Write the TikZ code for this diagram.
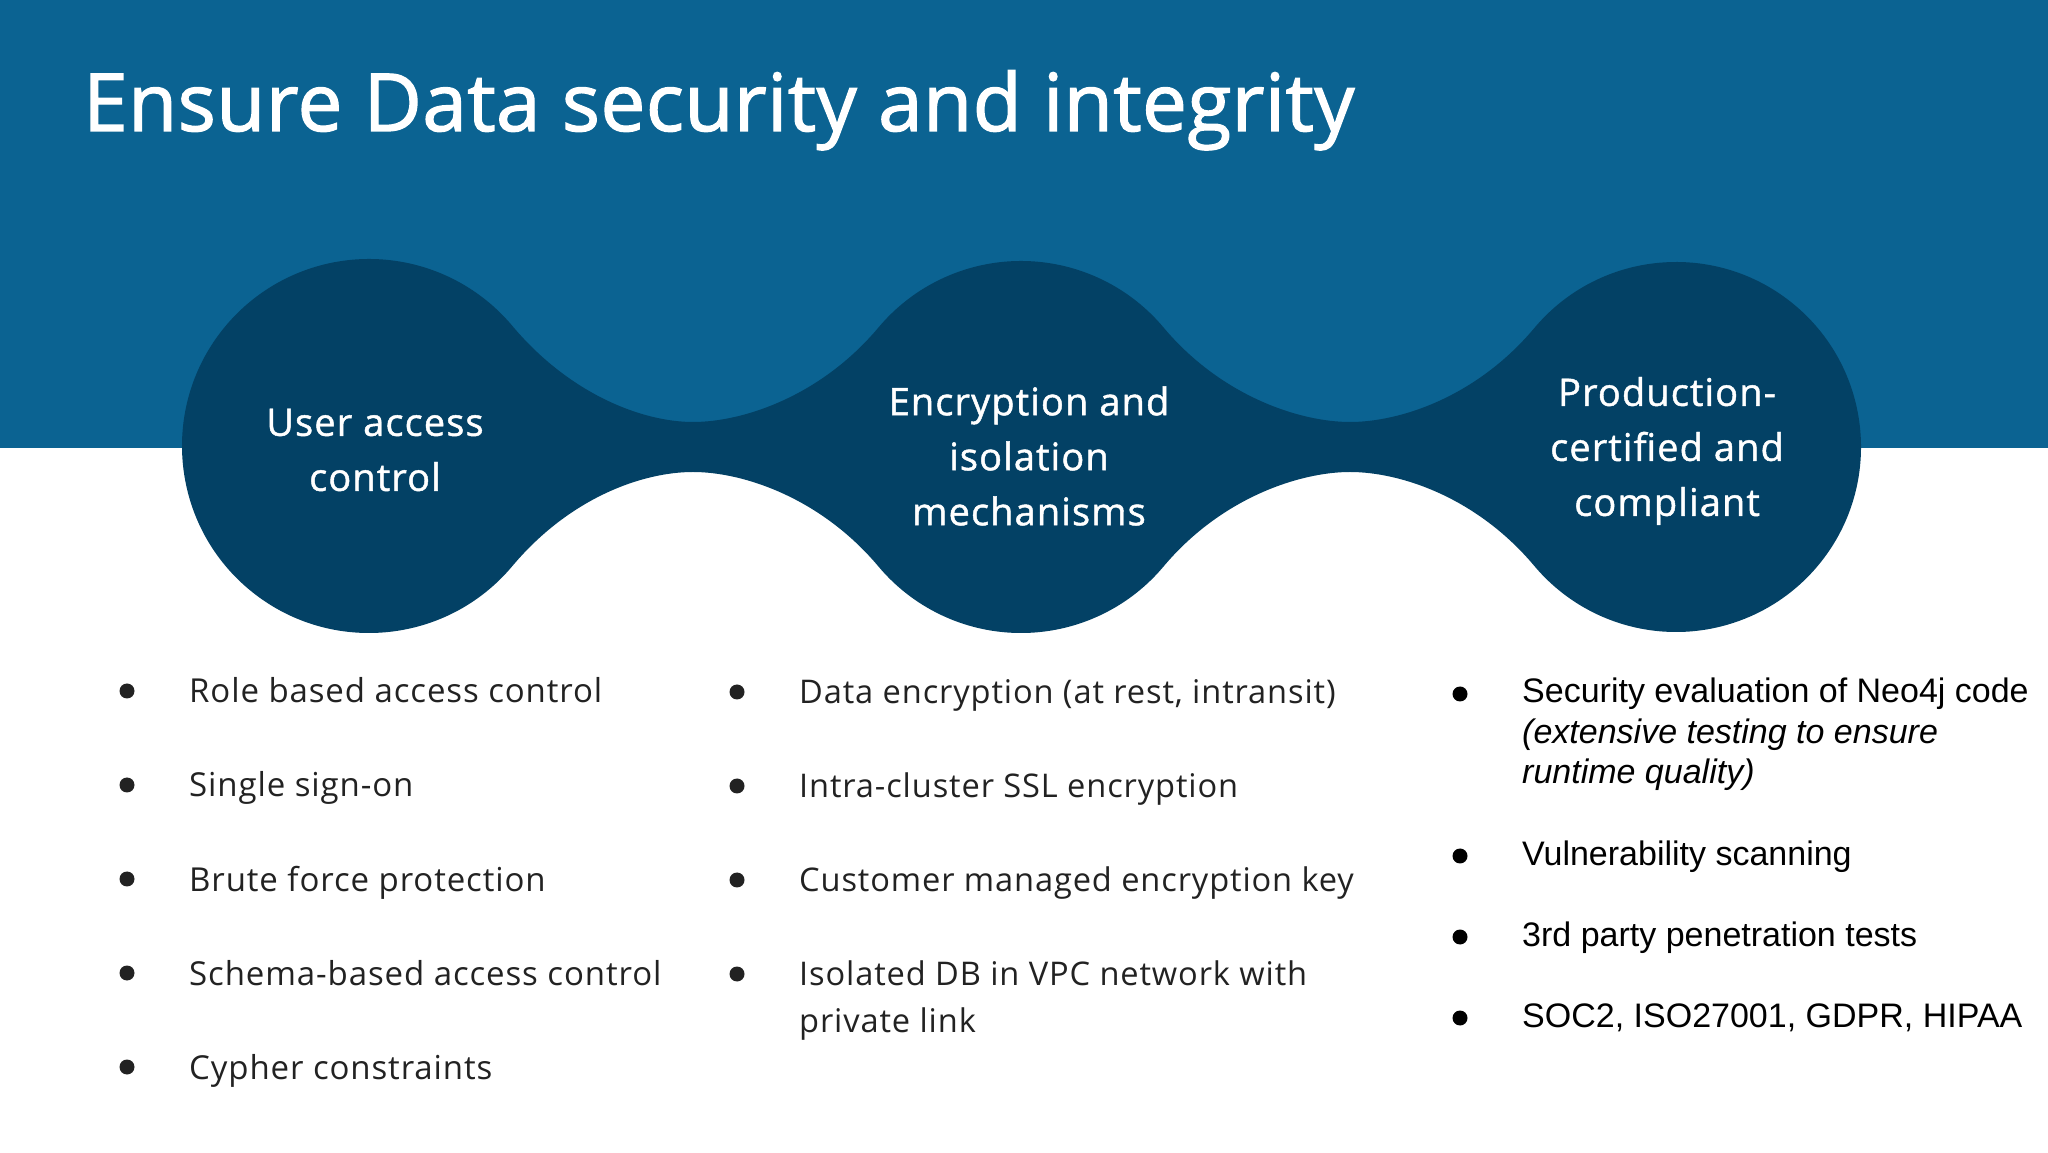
\documentclass[tikz,border=0pt]{standalone}
\usepackage{fontspec}
\setmainfont{Open Sans}
\newfontfamily\bodyfont{Open Sans}[LetterSpace=2.7]
\newfontfamily\titlefont{Open Sans}[LetterSpace=0.6, FakeBold=1.6]
\newfontfamily\blobfont{Open Sans}[LetterSpace=2.9, FakeBold=1.2]
\newfontfamily\arialfont{Liberation Sans}
\usetikzlibrary{calc}
\definecolor{bandblue}{RGB}{11,99,146}
\definecolor{blobblue}{RGB}{3,65,101}
\definecolor{itemgrey}{RGB}{34,34,34}
\tikzset{
	heading/.style = {anchor=base west, inner sep=0pt, text=white, font=\titlefont\fontsize{80}{90}\selectfont},
	bloblabel/.style = {align=center, inner sep=0pt, text=white, font=\blobfont\fontsize{38}{55}\selectfont},
	listitem/.style = {anchor=base west, inner sep=0pt, align=left, text=itemgrey, font=\bodyfont\fontsize{33}{47}\selectfont},
	narrowitem/.style = {listitem, font=\bodyfont\fontsize{32.6}{47}\selectfont},
	arialitem/.style = {anchor=base west, inner sep=0pt, align=left, text=black, font=\arialfont\fontsize{34}{40.5}\selectfont},
	dotmark/.style = {circle, fill=itemgrey, inner sep=0pt, minimum size=15pt}
}
\begin{document}
\begin{tikzpicture}[x=1pt, y=1pt]
	\path[use as bounding box] (0,0) rectangle (2048,1152);
	\fill[white] (0,0) rectangle (2048,1152);
	\fill[bandblue] (0,704) rectangle (2048,1152);
	\coordinate (c1) at (369,706);
	\coordinate (c2) at (1021,705);
	\coordinate (c3) at (1676,705);
	\coordinate (n1) at (693,730);
	\coordinate (n2) at (1350,730);
	\coordinate (m1) at (693,680);
	\coordinate (m2) at (1350,680);
	\fill[blobblue] ($(c1)+(40:187)$) .. controls +(-50:90) and +(180:50) .. (n1)
		.. controls +(0:50) and +(230:90) .. ($(c2)+(140:186)$)
		arc[start angle=140, end angle=40, radius=186]
		.. controls +(-50:90) and +(180:50) .. (n2)
		.. controls +(0:50) and +(230:90) .. ($(c3)+(140:185)$)
		arc[start angle=140, end angle=-140, radius=185]
		.. controls +(130:90) and +(0:50) .. (m2)
		.. controls +(180:50) and +(50:90) .. ($(c2)+(-40:186)$)
		arc[start angle=-40, end angle=-140, radius=186]
		.. controls +(130:90) and +(0:50) .. (m1)
		.. controls +(180:50) and +(50:90) .. ($(c1)+(-40:187)$)
		arc[start angle=-40, end angle=-320, radius=187] -- cycle;
	\node[heading] (title) at (83,1021) {Ensure Data security and integrity};
	\node[bloblabel] (access) at (375,702) {User access\\control};
	\node[bloblabel] (crypt) at (1029,696) {Encryption and\\isolation\\mechanisms};
	\node[bloblabel] (prod) at (1667,701) {Production-\\certified and\\compliant};
	\foreach \name/\ypos/\words in {a1/449/Role based access control, a2/355/Single sign-on, a3/261/Brute force protection, a4/167/Schema-based access control, a5/73/Cypher constraints} {
		\node[dotmark] (dot\name) at (127,\ypos+12) {};
		\node[listitem] (\name) at (189,\ypos) {\words};
	}
	\foreach \name/\ypos/\words in {b1/448/{Data encryption (at rest, intransit)}, b2/354/Intra-cluster SSL encryption, b3/260/Customer managed encryption key} {
		\node[dotmark] (dot\name) at (737,\ypos+12) {};
		\node[narrowitem] (\name) at (799,\ypos) {\words};
	}
	\node[dotmark] (dotb4) at (737,178) {};
	\node[narrowitem] (b4) at (799,120) {Isolated DB in VPC network with\\private link};
	\node[dotmark, fill=black] (dotc1) at (1460,458) {};
	\node[arialitem] (c1txt) at (1522,368) {Security evaluation of Neo4j code\\\textit{(extensive testing to ensure}\\\textit{runtime quality)}};
	\foreach \name/\ypos/\words in {c2/287/Vulnerability scanning, c3/206/3rd party penetration tests, c4/125/{SOC2, ISO27001, GDPR, HIPAA}} {
		\node[dotmark, fill=black] (dot\name) at (1460,\ypos+9) {};
		\node[arialitem] (\name txt) at (1522,\ypos) {\words};
	}
\end{tikzpicture}
\end{document}
